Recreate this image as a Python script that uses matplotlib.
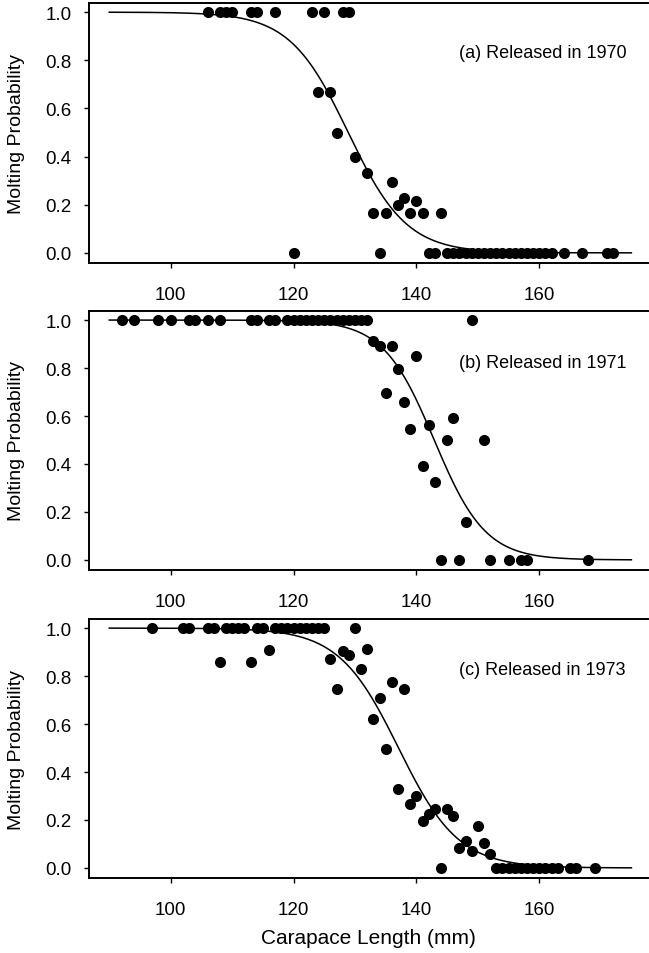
import numpy as np
import matplotlib
matplotlib.use('Agg')
import matplotlib.pyplot as plt

plt.rcParams['font.family'] = ['Liberation Sans', 'DejaVu Sans']

# (a) released in 1970
x_1970 = [106, 108, 109, 110, 113, 114, 117, 123, 125, 128, 129,
          124, 126, 127, 130, 132, 136, 133, 135, 138, 137, 140, 139, 141, 144,
          120, 134, 142, 143, 145, 146, 147, 148, 149, 150, 151, 152, 153, 154,
          155, 156, 157, 158, 159, 160, 161, 162, 164, 167, 171, 172]
y_1970 = [1.0, 1.0, 1.0, 1.0, 1.0, 1.0, 1.0, 1.0, 1.0, 1.0, 1.0,
          0.667, 0.667, 0.5, 0.4, 0.333, 0.296, 0.167, 0.167, 0.227, 0.2, 0.217, 0.167, 0.167, 0.167,
          0, 0, 0, 0, 0, 0, 0, 0, 0, 0, 0, 0, 0, 0,
          0, 0, 0, 0, 0, 0, 0, 0, 0, 0, 0, 0]

# (b) released in 1971
x_1971 = [92, 94, 98, 100, 103, 104, 106, 108, 113, 114, 116, 117,
          119, 120, 121, 122, 123, 124, 125, 126, 127, 128, 129, 130, 131, 132, 149,
          133, 134, 136, 140, 137, 135, 138, 142, 146, 139, 145, 151, 141, 143, 148,
          144, 147, 152, 155, 157, 158, 168]
y_1971 = [1.0, 1.0, 1.0, 1.0, 1.0, 1.0, 1.0, 1.0, 1.0, 1.0, 1.0, 1.0,
          1.0, 1.0, 1.0, 1.0, 1.0, 1.0, 1.0, 1.0, 1.0, 1.0, 1.0, 1.0, 1.0, 1.0, 1.0,
          0.914, 0.893, 0.893, 0.851, 0.796, 0.695, 0.66, 0.564, 0.592, 0.546, 0.5, 0.5, 0.393, 0.326, 0.157,
          0, 0, 0, 0, 0, 0, 0]

# (c) released in 1973
x_1973 = [97, 102, 103, 106, 107, 109, 110, 111, 112, 114, 115,
          117, 118, 119, 120, 121, 122, 123, 124, 125, 130,
          108, 113, 116, 126, 128, 129, 132, 131, 127, 136, 138, 134, 133, 135,
          137, 139, 140, 141, 142, 143, 145, 146, 150, 147, 148, 149, 151, 152,
          144, 153, 154, 155, 156, 157, 158, 159, 160, 161, 162, 163, 165, 166, 169]
y_1973 = [1.0, 1.0, 1.0, 1.0, 1.0, 1.0, 1.0, 1.0, 1.0, 1.0, 1.0,
          1.0, 1.0, 1.0, 1.0, 1.0, 1.0, 1.0, 1.0, 1.0, 1.0,
          0.857, 0.857, 0.908, 0.871, 0.905, 0.888, 0.915, 0.83, 0.746, 0.776, 0.748, 0.708, 0.62, 0.495,
          0.328, 0.267, 0.301, 0.194, 0.225, 0.246, 0.246, 0.218, 0.176, 0.082, 0.114, 0.07, 0.105, 0.058,
          0, 0, 0, 0, 0, 0, 0, 0, 0, 0, 0, 0, 0, 0, 0]

# fitted logistic curves (size at 50% molting, slope)
l50 = [128.9, 142.9, 137.1]
slope = [0.21, 0.24, 0.205]
curve_range = [90, 175]

labels = ['(a) Released in 1970', '(b) Released in 1971', '(c) Released in 1973']
label_y = [0.834, 0.825, 0.829]
x_ticks = [100, 120, 140, 160]
y_ticks = [0.0, 0.2, 0.4, 0.6, 0.8, 1.0]


def draw_panel(ax, xs, ys, i):
    xc = np.linspace(curve_range[0], curve_range[1], 300)
    yc = 1.0 / (1.0 + np.exp(slope[i] * (xc - l50[i])))
    ax.plot(xc, yc, color='black', lw=1.1, zorder=2)
    ax.plot(xs, ys, 'o', color='black', ms=8, mew=0, zorder=3)

    ax.set_xlim(86.7, 177.7)
    ax.set_ylim(-0.042, 1.038)
    ax.set_xticks(x_ticks)
    ax.set_yticks(y_ticks)
    ax.set_yticklabels([f'{v:.1f}' for v in y_ticks])
    ax.tick_params(axis='x', direction='out', length=3.5, width=1, pad=13, labelsize=13.5)
    ax.tick_params(axis='y', direction='out', length=3.5, width=1, pad=9, labelsize=13.5)
    ax.set_ylabel('Molting Probability', fontsize=14)
    ax.yaxis.set_label_coords(-0.114, 0.5)

    for side in ['top', 'bottom', 'left']:
        ax.spines[side].set_linewidth(1.4)
    ax.spines['right'].set_visible(False)

    ax.text(147.0, label_y[i], labels[i], fontsize=13, va='center', ha='left')


fig = plt.figure(figsize=(6.49, 9.54), dpi=100)
bottoms = [0.7233, 0.4015, 0.0786]
heights = [0.2725, 0.2715, 0.2715]
data = [(x_1970, y_1970), (x_1971, y_1971), (x_1973, y_1973)]

for i, (xs, ys) in enumerate(data):
    ax = fig.add_axes([0.1371, bottoms[i], 0.8613, heights[i]])
    draw_panel(ax, xs, ys, i)

fig.text(368 / 649, 1 - 939 / 954, 'Carapace Length (mm)', fontsize=15, ha='center', va='center')

fig.savefig('out.png', dpi=100)
